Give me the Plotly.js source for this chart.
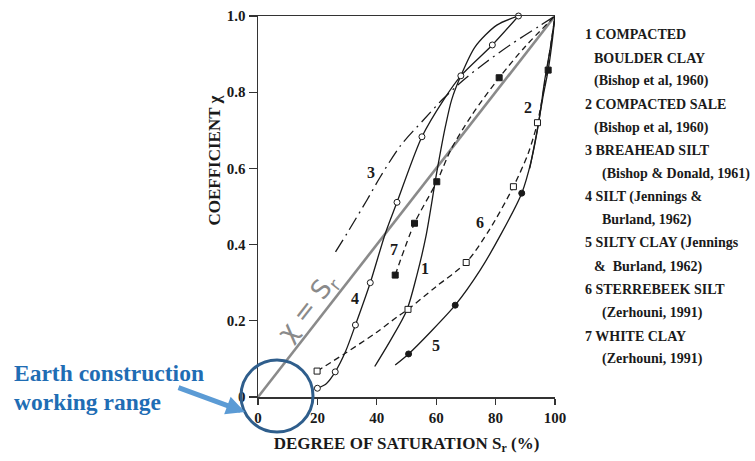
<!DOCTYPE html>
<html><head><meta charset="utf-8">
<script src="https://cdn.plot.ly/plotly-3.0.1.min.js"></script>
<style>html,body{margin:0;padding:0;background:#fff}#chart{width:755px;height:461px}</style>
</head><body><div id="chart"></div>
<script>
// ---------- data ----------
const srIdentity = [0, 100];
const chiIdentity = [0, 1];

// 1 Compacted boulder clay (solid, no markers)
const sr1  = [39.3, 44.7, 50.1, 53.5, 56.5, 60.2, 63.1, 65.2, 68.3, 73.1, 80.4, 87.7];
const chi1 = [0.08, 0.15, 0.228, 0.32, 0.42, 0.59, 0.71, 0.78, 0.843, 0.919, 0.976, 1.0];

// 2 Compacted shale (solid, filled square)
const sr2  = [91.5, 94, 96, 97.7, 99, 100];
const chi2 = [0.6, 0.7, 0.79, 0.858, 0.93, 1.0];
const sr2m  = [97.7];
const chi2m = [0.858];

// 3 Braehead silt (dash-dot)
const sr3  = [26.1, 30, 36.7, 41.2, 48, 55.7, 62, 69.2, 77, 84.9, 94.4, 100];
const chi3 = [0.381, 0.43, 0.517, 0.578, 0.66, 0.727, 0.78, 0.832, 0.88, 0.924, 0.972, 1.0];

// 4 Silt (solid, open circles)
const sr4  = [20, 23, 26, 29.5, 32.8, 37.8, 42.9, 46.8, 55.2, 62.5, 68.3, 78.9, 87.7];
const chi4 = [0.023, 0.035, 0.066, 0.12, 0.189, 0.30, 0.43, 0.511, 0.683, 0.78, 0.843, 0.924, 1.0];
const sr4m  = [20, 26, 32.8, 37.8, 46.8, 55.2, 68.3, 78.9, 87.7];
const chi4m = [0.023, 0.066, 0.189, 0.30, 0.511, 0.683, 0.843, 0.924, 1.0];

// 5 Silty clay (solid, filled circles)
const sr5  = [46.2, 50.7, 58, 66.4, 74.8, 82, 88.8, 92, 94.5, 96.5, 98.5, 100];
const chi5 = [0.084, 0.113, 0.17, 0.241, 0.333, 0.43, 0.535, 0.62, 0.72, 0.83, 0.92, 1.0];
const sr5m  = [50.7, 66.4, 88.8];
const chi5m = [0.113, 0.241, 0.535];

// 6 Sterrebeek silt (dashed, open squares)
const sr6  = [19.9, 29.4, 40, 46.8, 50.5, 60, 70.1, 78, 86, 91, 94.1, 96.5, 98.5, 100];
const chi6 = [0.068, 0.115, 0.17, 0.21, 0.23, 0.29, 0.353, 0.44, 0.552, 0.64, 0.72, 0.82, 0.92, 1.0];
const sr6m  = [19.9, 50.5, 70.1, 86, 94.1];
const chi6m = [0.068, 0.23, 0.353, 0.552, 0.72];

// 7 White clay (dashed, filled squares)
const sr7  = [46.2, 52.7, 60.2, 65, 72, 81.2, 90, 100];
const chi7 = [0.32, 0.456, 0.565, 0.65, 0.74, 0.838, 0.92, 1.0];
const sr7m  = [46.2, 52.7, 60.2, 81.2];
const chi7m = [0.32, 0.456, 0.565, 0.838];

// curve number labels
const curveLabels = ['1', '2', '3', '4', '5', '6', '7'];
const curveLabelSr  = [56.3, 91, 38, 32.8, 60, 74.8, 45.9];
const curveLabelChi = [0.338, 0.76, 0.589, 0.259, 0.136, 0.457, 0.386];

// axis ticks
const xTicks = [0, 20, 40, 60, 80, 100];
const xTickText = ['0', '20', '40', '60', '80', '100'];
const yTicks = [0, 0.2, 0.4, 0.6, 0.8, 1.0];
const yTickText = ['0', '0.2', '0.4', '0.6', '0.8', '1.0'];

// legend text lines
const legendLines = [
  '1 COMPACTED', 'BOULDER CLAY', '(Bishop et al, 1960)',
  '2 COMPACTED SALE', '(Bishop et al, 1960)',
  '3 BREAHEAD SILT', '(Bishop &amp; Donald, 1961)',
  '4 SILT (Jennings &amp;', 'Burland, 1962)',
  '5 SILTY CLAY (Jennings', '&amp;  Burland, 1962)',
  '6 STERREBEEK SILT', '(Zerhouni, 1991)',
  '7 WHITE CLAY', '(Zerhouni, 1991)'
];
const legendIndent = [0, 1, 1, 0, 1, 0, 2, 0, 2, 0, 1, 0, 2, 0, 2];

// ---------- drawing ----------
const SERIF = 'Liberation Serif, Times New Roman, serif';
const INK = '#1a1a1a';
const L = 258, T = 16, W = 297, H = 381;
const PX = v => (v - L) / W;
const PY = v => (T + H - v) / H;

function line(x, y, dash, w) {
  return {x, y, type: 'scatter', mode: 'lines', hoverinfo: 'skip', showlegend: false,
          line: {color: INK, width: w || 1.3, dash: dash || 'solid', shape: 'spline', smoothing: 0.8},
          cliponaxis: false};
}
function marks(x, y, symbol, fill, size) {
  return {x, y, type: 'scatter', mode: 'markers', hoverinfo: 'skip', showlegend: false,
          marker: {symbol, size: size || 6, color: fill, line: {color: INK, width: 1}},
          cliponaxis: false};
}

const data = [
  {x: srIdentity, y: chiIdentity, type: 'scatter', mode: 'lines', showlegend: false, hoverinfo: 'skip',
   line: {color: '#8a8a8a', width: 2.6}},
  line(sr1, chi1),
  line(sr2, chi2),
  line(sr3, chi3, '14px,5px,2px,5px'),
  line(sr4, chi4),
  line(sr5, chi5),
  line(sr6, chi6, '6px,4px'),
  line(sr7, chi7, '6px,4px'),
  marks(sr2m, chi2m, 'square', INK, 6),
  marks(sr4m, chi4m, 'circle', '#fff', 6),
  marks(sr5m, chi5m, 'circle', INK, 6),
  marks(sr6m, chi6m, 'square', '#fff', 6),
  marks(sr7m, chi7m, 'square', INK, 6)
];

const annotations = [];
curveLabels.forEach((t, i) => annotations.push({
  x: curveLabelSr[i], y: curveLabelChi[i], xref: 'x', yref: 'y', text: '<b>' + t + '</b>',
  showarrow: false, font: {family: SERIF, size: 16, color: INK}
}));
// chi = Sr label
annotations.push({x: 17, y: 0.235, xref: 'x', yref: 'y', text: 'χ = S<sub>r</sub>', textangle: -52,
  showarrow: false, font: {family: 'DejaVu Sans, Liberation Sans, sans-serif', size: 26, color: '#8a8a8a'}});
// y title
annotations.push({x: PX(203), y: PY(161), xref: 'paper', yref: 'paper', text: '<b>COEFFICIENT χ</b>',
  textangle: -90, showarrow: false, font: {family: SERIF, size: 17, color: INK}});
// legend block
const legendX = [583, 592, 600];
legendLines.forEach((t, i) => annotations.push({
  x: PX(legendX[legendIndent[i]]), y: PY(35 + i * 23.16), xref: 'paper', yref: 'paper',
  xanchor: 'left', yanchor: 'middle', text: '<b>' + t + '</b>', showarrow: false,
  font: {family: SERIF, size: 14, color: INK}
}));
// blue note + arrow
annotations.push({x: PX(12), y: PY(373), xref: 'paper', yref: 'paper', xanchor: 'left', yanchor: 'middle',
  text: '<b>Earth construction</b>', showarrow: false, font: {family: SERIF, size: 23.5, color: '#1f6db4'}});
annotations.push({x: PX(12), y: PY(402), xref: 'paper', yref: 'paper', xanchor: 'left', yanchor: 'middle',
  text: '<b>working range</b>', showarrow: false, font: {family: SERIF, size: 23.5, color: '#1f6db4'}});
annotations.push({x: PX(245), y: PY(412), xref: 'paper', yref: 'paper', text: '', showarrow: true,
  ax: -68, ay: -25, axref: 'pixel', ayref: 'pixel', arrowcolor: '#5b9bd5', arrowwidth: 5, arrowhead: 2, arrowsize: 0.75});

const layout = {
  width: 755, height: 461,
  margin: {l: L, r: 755 - L - W, t: T, b: 461 - T - H},
  paper_bgcolor: '#fff', plot_bgcolor: '#fff',
  font: {family: SERIF, color: INK},
  xaxis: {range: [0, 100], tickvals: xTicks, ticktext: xTickText, ticks: 'outside', ticklen: 6, tickwidth: 1.2,
          tickcolor: '#333', showline: true, linecolor: '#333', linewidth: 1.5, mirror: true,
          showgrid: false, zeroline: false, fixedrange: true,
          tickfont: {family: SERIF, size: 15, color: INK, weight: 'bold'},
          title: {text: '<b>DEGREE OF SATURATION S<sub>r</sub> (%)</b>', standoff: 12,
                  font: {family: SERIF, size: 17, color: INK}}},
  yaxis: {range: [0, 1], tickvals: yTicks, ticktext: yTickText, ticks: 'outside', ticklen: 8, tickwidth: 1.2,
          tickcolor: '#333', showline: true, linecolor: '#333', linewidth: 1.5, mirror: false,
          showgrid: false, zeroline: false, fixedrange: true,
          tickfont: {family: SERIF, size: 15, color: INK, weight: 'bold'}},
  shapes: [{type: 'circle', xref: 'paper', yref: 'paper', x0: PX(241), x1: PX(313), y0: PY(432), y1: PY(360),
            line: {color: '#2f5e8c', width: 3}, layer: 'above'}],
  annotations
};

Plotly.newPlot('chart', data, layout, {displayModeBar: false, staticPlot: true});
</script>
</body></html>
